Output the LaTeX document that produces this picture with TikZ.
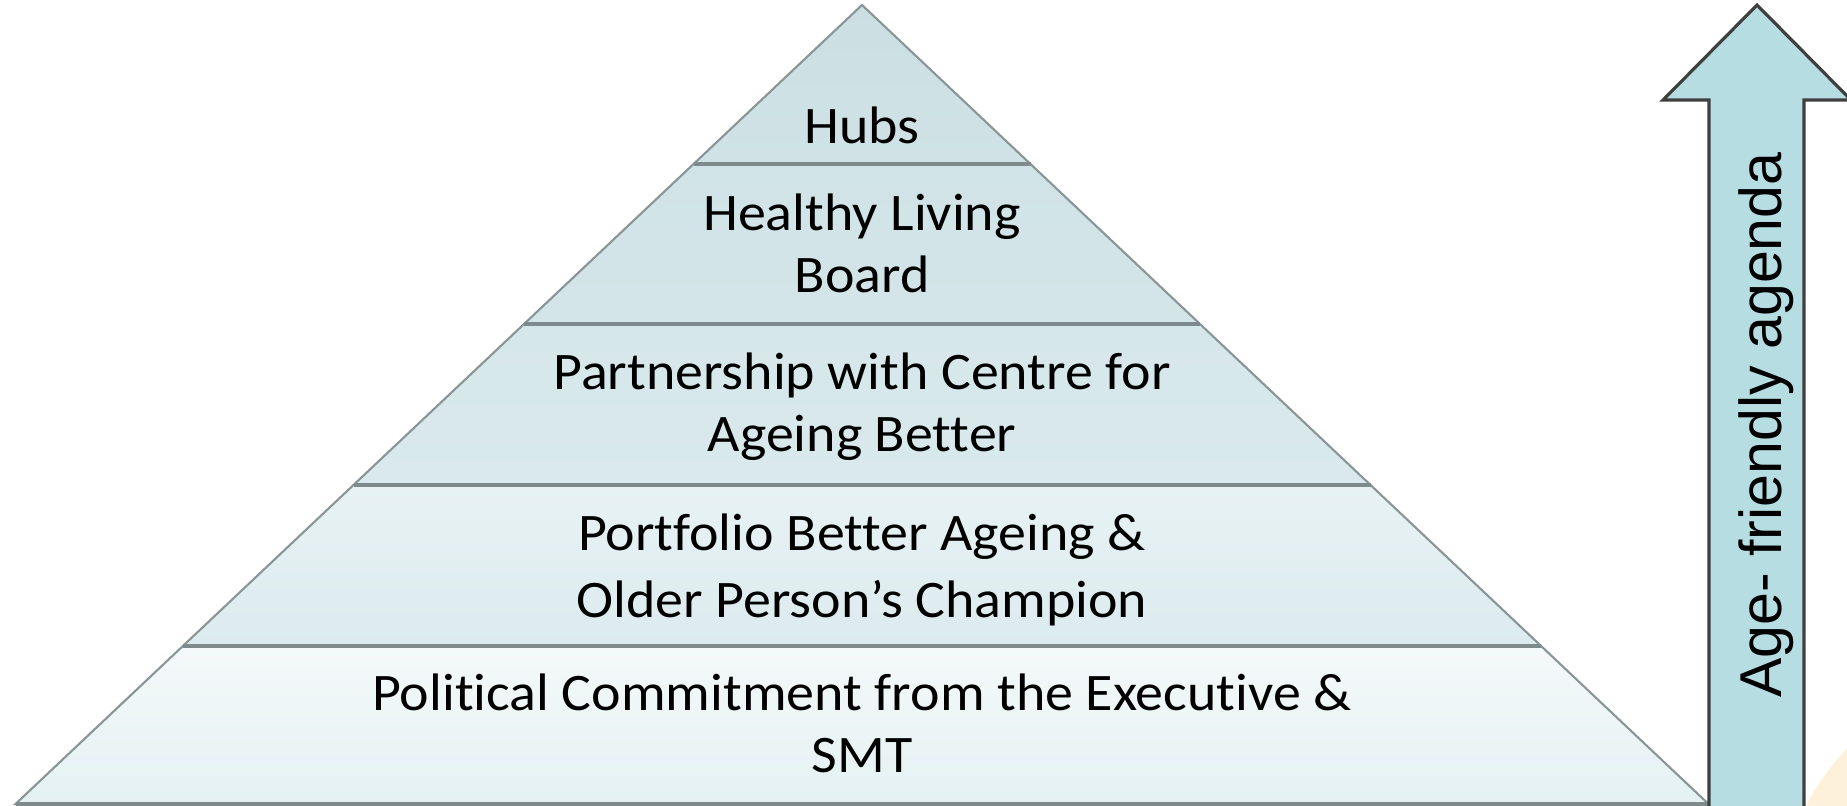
\documentclass[tikz,border=0pt]{standalone}
\usepackage{fontspec}
\setmainfont[Ligatures=NoCommon, FakeStretch=1.06]{Carlito}
\newfontfamily\arrowfont{Liberation Sans}
\usetikzlibrary{calc}

\definecolor{edgegray}{HTML}{8A9597}
\definecolor{sepgray}{HTML}{7E8A8C}
\definecolor{arrowfill}{HTML}{B6DEE2}
\definecolor{arrowline}{HTML}{3F3F3F}
\definecolor{blobyellow}{HTML}{FDF1D9}
\definecolor{bandAtop}{RGB}{203,223,226}
\definecolor{bandAbot}{RGB}{208,226,229}
\definecolor{bandBtop}{RGB}{208,227,230}
\definecolor{bandBbot}{RGB}{212,229,232}
\definecolor{bandCtop}{RGB}{214,231,234}
\definecolor{bandCbot}{RGB}{217,233,236}
\definecolor{bandDtop}{RGB}{232,242,244}
\definecolor{bandDbot}{RGB}{220,235,238}
\definecolor{bandEtop}{RGB}{245,249,249}
\definecolor{bandEbot}{RGB}{228,241,243}

\begin{document}
\begin{tikzpicture}[x=0.01cm, y=-0.01cm,
	sep/.style={draw=sepgray, line width=1.3pt},
	label/.style={align=center, inner sep=0pt, font=\fontsize{15}{17.6}\selectfont}]
			%%%%% START %%%%%
			\useasboundingbox (0,0) rectangle (1847,806);
			
			% pale corner of the slide background
			\fill[blobyellow] (1806,806) .. controls (1818,782) and (1832,765) .. (1847,748) -- (1847,806) -- cycle;
			
			% pyramid bands, top to bottom
			\shade[top color=bandAtop, bottom color=bandAbot] (862,5) -- (1030.5,164) -- (693.5,164) -- cycle;
			\shade[top color=bandBtop, bottom color=bandBbot] (693.5,164) -- (1030.5,164) -- (1200,324) -- (524,324) -- cycle;
			\shade[top color=bandCtop, bottom color=bandCbot] (524,324) -- (1200,324) -- (1370.5,485) -- (353.5,485) -- cycle;
			\shade[top color=bandDtop, bottom color=bandDbot] (353.5,485) -- (1370.5,485) -- (1541,646) -- (183,646) -- cycle;
			\shade[top color=bandEtop, bottom color=bandEbot] (183,646) -- (1541,646) -- (1708.5,804) -- (15.5,804) -- cycle;
			
			\draw[edgegray, line width=0.6pt] (862,5) -- (1708.5,804) -- (15.5,804) -- cycle;
			\draw[sep] (693.5,164) -- (1030.5,164);
			\draw[sep] (524,324) -- (1200,324);
			\draw[sep] (353.5,485) -- (1370.5,485);
			\draw[sep] (183,646) -- (1541,646);
			\draw[sep] (15.5,804) -- (1708.5,804);
			
			\node[label] (hubs) at (862,125) {Hubs};
			\node[label] (board) at (862,243) {Healthy Living\\Board};
			\node[label] (centre) at (862,407) {Partnership with Centre for\\Ageing Better};
			\node[label] (champion) at (862,570) {Portfolio Better Ageing \&\\[1.4pt]Older Person’s Champion};
			\node[label] (executive) at (862,723) {Political Commitment from the Executive \&\\SMT};
			
			% the arrow on the right
			\draw[fill=arrowfill, draw=arrowline, line width=0.9pt] (1709,806) -- (1709,100) -- (1663,100) -- (1757,5) -- (1851,100) -- (1804,100) -- (1804,806);
			\node[label, rotate=90, font=\arrowfont\fontsize{16.8}{20}\selectfont] (agenda) at (1766,425) {Age- friendly agenda};
			
			%%%%% END %%%%%
		\end{tikzpicture}
\end{document}
